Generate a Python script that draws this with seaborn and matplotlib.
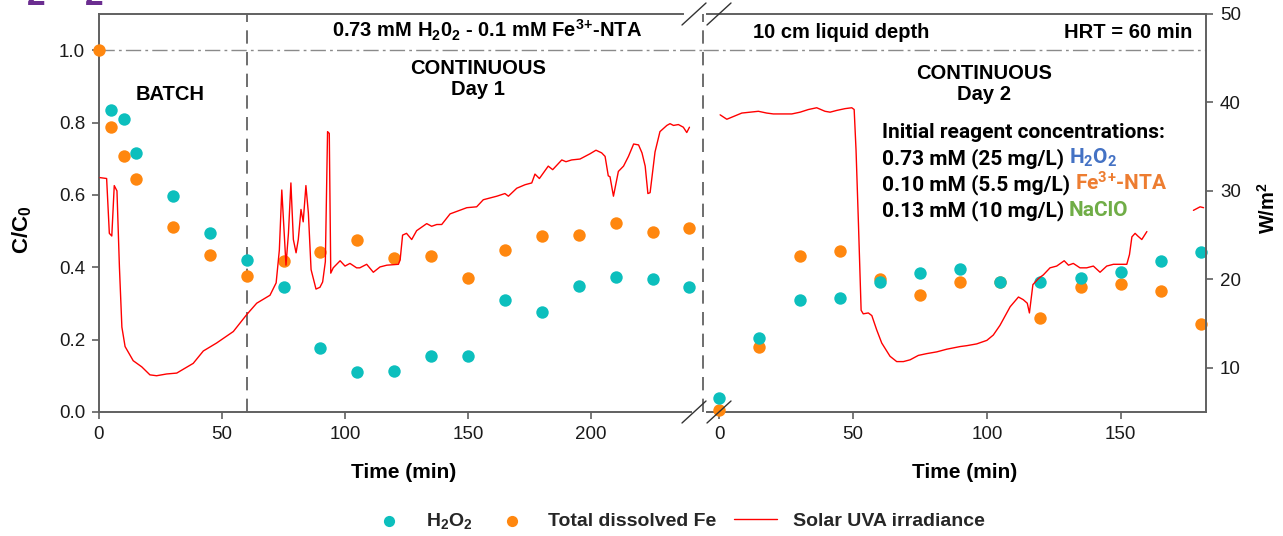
import numpy as np
import pandas as pd
import matplotlib
matplotlib.use("Agg")
import matplotlib.pyplot as plt
from matplotlib.lines import Line2D
import seaborn as sns

# ---- data ----
# left panel: batch (0-60 min) + continuous day 1
left_t_h2o2 = [5, 10, 15, 30, 45, 60, 75, 90, 105, 120, 135, 150, 165, 180, 195, 210, 225, 240]
left_h2o2 = [0.834, 0.81, 0.716, 0.598, 0.495, 0.42, 0.346, 0.176, 0.111, 0.113, 0.156, 0.154,
             0.309, 0.276, 0.349, 0.374, 0.367, 0.345]
left_t_fe = [0, 5, 10, 15, 30, 45, 60, 75, 90, 105, 120, 135, 150, 165, 180, 195, 210, 225, 240]
left_fe = [1.0, 0.788, 0.708, 0.645, 0.512, 0.433, 0.377, 0.416, 0.441, 0.474, 0.427, 0.43,
           0.371, 0.449, 0.486, 0.489, 0.521, 0.498, 0.509]

# right panel: continuous day 2
right_t = [0, 15, 30, 45, 60, 75, 90, 105, 120, 135, 150, 165, 180]
right_h2o2 = [0.038, 0.204, 0.31, 0.316, 0.358, 0.383, 0.395, 0.359, 0.359, 0.369, 0.388, 0.418, 0.443]
right_fe = [0.006, 0.179, 0.432, 0.446, 0.367, 0.322, 0.359, 0.358, 0.261, 0.345, 0.354, 0.334, 0.243]

# solar UVA irradiance (W/m2)
uva1_t = [0.4, 3.1, 4.2, 5.2, 6.2, 7.3, 8.3, 9.3, 10.6, 13.9,
          17.4, 20.7, 23.4, 27.5, 31.6, 38.3, 42.4, 47.8, 54.6, 60,
          64.1, 69.5, 72, 73.3, 74.3, 74.9, 76, 77, 78, 79,
          80.1, 81, 82.1, 83, 84.1, 85.1, 86.2, 88.2, 89.8, 90.9,
          92, 92.9, 93.6, 94.2, 95.2, 98, 100, 102, 104.7, 106,
          108.8, 111.5, 114.2, 117, 121.7, 122.4, 123.4, 125, 127.1, 129.1,
          133.2, 135.2, 137.3, 139.3, 142.7, 149.5, 153.5, 156.2, 161.7, 165,
          166.4, 169.8, 173.2, 175.9, 177.2, 179, 182.6, 184.4, 188.1, 189.8,
          192.1, 195.5, 199.6, 202, 204.3, 205.7, 207, 207.7, 209.1, 211.1,
          213.2, 215.2, 217.3, 219.3, 220.7, 222, 223.1, 224, 226, 228,
          230.8, 232.1, 233.5, 235.5, 237.5, 238.9, 240]
uva1_w = [31.5, 31.4, 25.2, 24.9, 30.6, 30.0, 21.4, 14.6, 12.4, 10.8,
          10.1, 9.2, 9.1, 9.3, 9.4, 10.5, 11.9, 12.8, 14.1, 16,
          17.3, 18.2, 19.6, 23.3, 30.1, 27.1, 21.6, 25.2, 30.9, 24.5,
          23, 24.5, 27.9, 26.5, 30.6, 27.5, 21.1, 18.9, 19.1, 19.7,
          22, 36.7, 36.5, 20.7, 21.3, 22.1, 21.5, 21.8, 21.3, 21.3,
          21.7, 20.8, 21.4, 21.6, 21.7, 22.2, 25, 25.2, 24.5, 25.5,
          26.3, 26, 26.2, 26.2, 27.4, 28.1, 28.2, 29, 29.4, 29.7,
          29.4, 30.3, 30.7, 30.9, 31.9, 31.4, 32.8, 32.4, 33.5, 33.3,
          33.5, 33.6, 34.2, 34.6, 34.3, 33.9, 31.7, 31.6, 29.4, 32.2,
          32.8, 33.9, 35.3, 35.2, 34.3, 32.8, 29.7, 29.8, 34.4, 36.7,
          37.4, 37.6, 37.4, 37.5, 37.2, 36.6, 37.2]

uva2_t = [0.3, 2.8, 5.2, 8.4, 11.5, 14.6, 17.7, 20.2, 23.9, 27.1,
          30.2, 33.3, 36.4, 39.5, 41.4, 43.9, 47, 49.5, 50.4, 51.1,
          52, 53, 53.8, 55.7, 57, 58.8, 60.7, 63.8, 66.3, 68.8,
          71.3, 74.4, 77.5, 81.3, 85, 90, 92.5, 96.2, 100, 102.4,
          104.9, 108.7, 111.8, 113.6, 115.1, 115.9, 117.2, 119.3, 121.1, 123.6,
          126.1, 128.9, 130.5, 132.3, 134.8, 137.3, 139.8, 142.3, 144.8, 147.3,
          150.4, 152.3, 153.3, 154.2, 155.4, 156.4, 157.9, 159.8]
uva2_w = [38.6, 38.1, 38.4, 38.8, 38.9, 39, 38.8, 38.7, 38.7, 38.7,
          38.9, 39.2, 39.4, 39, 38.9, 39.1, 39.3, 39.4, 39.2, 34.6,
          26.3, 16.5, 16.1, 16.2, 15.9, 14.3, 12.8, 11.3, 10.7, 10.7,
          10.9, 11.4, 11.6, 11.8, 12.1, 12.4, 12.5, 12.7, 13.1, 13.7,
          14.8, 16.9, 18, 17.7, 17.3, 16.2, 19.4, 20.1, 20.5, 21.3,
          21.5, 22.1, 21.6, 21.8, 21.3, 21.3, 21.5, 20.8, 21.5, 21.7,
          21.7, 21.7, 22.8, 24.8, 25.2, 24.9, 24.5, 25.4]
uva3_t = [177.2, 179.7, 181]
uva3_w = [27.8, 28.2, 28.1]

c_h2o2 = '#0CBFBD'
c_fe = '#FF870F'
c_uva = '#FF0000'
spine_c = '#606060'

sns.set_style("ticks")
plt.rcParams['font.family'] = ['Liberation Sans', 'DejaVu Sans']
plt.rcParams['mathtext.default'] = 'regular'

W, H = 1283, 536
fig = plt.figure(figsize=(W / 100, H / 100), dpi=100)

def fx(px):
    return px / W

def fy(py):
    return 1 - py / H

ax_l = fig.add_axes([fx(99), fy(412), fx(703 - 99), (412 - 14) / H])
ax_r = fig.add_axes([fx(703), fy(412), fx(1206 - 703), (412 - 14) / H])
ax_l2 = ax_l.twinx()
ax_r2 = ax_r.twinx()

df_l_h = pd.DataFrame({'t': left_t_h2o2, 'c': left_h2o2})
df_l_f = pd.DataFrame({'t': left_t_fe, 'c': left_fe})
df_r_h = pd.DataFrame({'t': right_t, 'c': right_h2o2})
df_r_f = pd.DataFrame({'t': right_t, 'c': right_fe})
df_u1 = pd.DataFrame({'t': uva1_t, 'w': uva1_w})
df_u2 = pd.concat([pd.DataFrame({'t': uva2_t, 'w': uva2_w, 'seg': 0}),
                   pd.DataFrame({'t': uva3_t, 'w': uva3_w, 'seg': 1})], ignore_index=True)

sc_kw = dict(s=80, linewidth=0, clip_on=False, zorder=3)
sns.scatterplot(data=df_l_f, x='t', y='c', ax=ax_l, color=c_fe, label='Total dissolved Fe', **sc_kw)
sns.scatterplot(data=df_l_h, x='t', y='c', ax=ax_l, color=c_h2o2, label='H$_2$O$_2$', **sc_kw)
sns.scatterplot(data=df_r_f, x='t', y='c', ax=ax_r, color=c_fe, **sc_kw)
sns.scatterplot(data=df_r_h, x='t', y='c', ax=ax_r, color=c_h2o2, **sc_kw)

sns.lineplot(data=df_u1, x='t', y='w', ax=ax_l2, color=c_uva, lw=1, sort=False,
             estimator=None, label='Solar UVA irradiance')
sns.lineplot(data=df_u2, x='t', y='w', ax=ax_r2, color=c_uva, lw=1, sort=False,
             estimator=None, units='seg')

for a in (ax_l, ax_r, ax_l2, ax_r2):
    if a.get_legend() is not None:
        a.get_legend().remove()
    a.set_xlabel('')
    a.set_ylabel('')
    a.patch.set_visible(False)

ax_l.set_xlim(0, 245.5)
ax_r.set_xlim(-6.1, 181.9)
ax_l.set_ylim(0, 1.1)
ax_r.set_ylim(0, 1.1)
ax_l2.set_ylim(5, 50)
ax_r2.set_ylim(5, 50)

ax_l.set_xticks([0, 50, 100, 150, 200])
ax_r.set_xticks([0, 50, 100, 150])
ax_l.set_yticks([0, 0.2, 0.4, 0.6, 0.8, 1.0])
ax_l.set_yticklabels(['0.0', '0.2', '0.4', '0.6', '0.8', '1.0'])
ax_r.set_yticks([])
ax_l2.set_yticks([])
ax_r2.set_yticks([10, 20, 30, 40, 50])

for a in (ax_l, ax_r, ax_l2, ax_r2):
    for s in a.spines.values():
        s.set_color(spine_c)
        s.set_linewidth(1.4)
    a.tick_params(direction='out', length=5, width=1.2, color=spine_c,
                  labelsize=13.5, labelcolor='#1a1a1a', pad=5)

ax_l.spines['right'].set_visible(False)
ax_l.spines['top'].set_bounds(0, 237.5)
ax_l.spines['bottom'].set_bounds(0, 240.5)
ax_r.spines['left'].set_visible(False)
ax_r.spines['right'].set_visible(False)
ax_r.spines['top'].set_bounds(-4.5, 181.9)
ax_r.spines['bottom'].set_bounds(-4.5, 181.9)
for s in ax_l2.spines.values():
    s.set_visible(False)
for k in ('left', 'top', 'bottom'):
    ax_r2.spines[k].set_visible(False)

# reference lines
dashdot = (0, (11, 3, 2, 3))
for a in (ax_l, ax_r):
    a.axhline(1.0, color='#8a8a8a', lw=1, ls=dashdot, zorder=1)
ax_l.axvline(60, color='#555555', lw=1.2, ls=(0, (8, 5)), zorder=1)
fig.add_artist(Line2D([fx(703), fx(703)], [fy(412), fy(14)], color='#555555', lw=1.2,
                      ls=(0, (8, 5))))

# axis break marks
for cx in (694, 719):
    for cy in (14, 412):
        fig.add_artist(Line2D([fx(cx - 12), fx(cx + 12)], [fy(cy + 11), fy(cy - 11)],
                              color='#333333', lw=1))

# labels
bold = dict(fontweight='bold', color='black')
fig.text(fx(22), fy(230), 'C/C$_0$', rotation=90, ha='center', va='center', fontsize=16, **bold)
fig.text(fx(1268), fy(208), 'W/m$^2$', rotation=90, ha='center', va='center', fontsize=14.5, **bold)
fig.text(fx(404), fy(472), 'Time (min)', ha='center', va='center', fontsize=15, **bold)
fig.text(fx(965), fy(472), 'Time (min)', ha='center', va='center', fontsize=15, **bold)

fs = 14.5
fig.text(fx(487), fy(30), '0.73 mM H$_2$0$_2$ - 0.1 mM Fe$^{3}$$^{+}$-NTA', ha='center',
         va='center', fontsize=fs, **bold)
fig.text(fx(841), fy(33), '10 cm liquid depth', ha='center', va='center', fontsize=fs, **bold)
fig.text(fx(1192), fy(33), 'HRT = 60 min', ha='right', va='center', fontsize=fs, **bold)
fig.text(fx(170), fy(94), 'BATCH', ha='center', va='center', fontsize=fs, **bold)
fig.text(fx(478), fy(79), 'CONTINUOUS\nDay 1', ha='center', va='center', fontsize=fs,
         linespacing=1.1, **bold)
fig.text(fx(984), fy(84), 'CONTINUOUS\nDay 2', ha='center', va='center', fontsize=fs,
         linespacing=1.1, **bold)

# partially cut heading in purple at the very top
for px in (27, 85):
    fig.text(fx(px), fy(5), '2', color='#6B2D90', fontsize=24, fontweight='bold', va='baseline')

# initial reagent concentrations box
rob = dict(family=['Roboto', 'DejaVu Sans'], fontweight='bold', fontsize=15)
fig.text(fx(882), fy(138), 'Initial reagent concentrations:', va='baseline', color='black', **rob)
conc_rows = [('0.73 mM (25 mg/L)', 'H$_2$O$_2$', '#4472C4'),
             ('0.10 mM (5.5 mg/L)', 'Fe$^{3}$$^{+}$-NTA', '#ED7D31'),
             ('0.13 mM (10 mg/L)', 'NaClO', '#70AD47')]
fig.canvas.draw()
rend = fig.canvas.get_renderer()
for i, (blk, col_txt, col) in enumerate(conc_rows):
    yb = fy(164 + 26 * i)
    t = fig.text(fx(882), yb, blk, va='baseline', color='black', **rob)
    bb = t.get_window_extent(renderer=rend)
    fig.text(fx(bb.x1 + 5), yb, col_txt, va='baseline', color=col, **rob)

# legend
h1, l1 = ax_l.get_legend_handles_labels()
h2, l2 = ax_l2.get_legend_handles_labels()
handles = [h1[1], h1[0], h2[0]]
labels = [l1[1], l1[0], l2[0]]
fig.legend(handles, labels, loc='center', bbox_to_anchor=(fx(676), fy(521)), ncol=3,
           frameon=False, prop={'weight': 'bold', 'size': 14}, handlelength=2.2,
           handletextpad=0.8, columnspacing=0.9, markerscale=0.9)

fig.savefig('out.png', dpi=100)
